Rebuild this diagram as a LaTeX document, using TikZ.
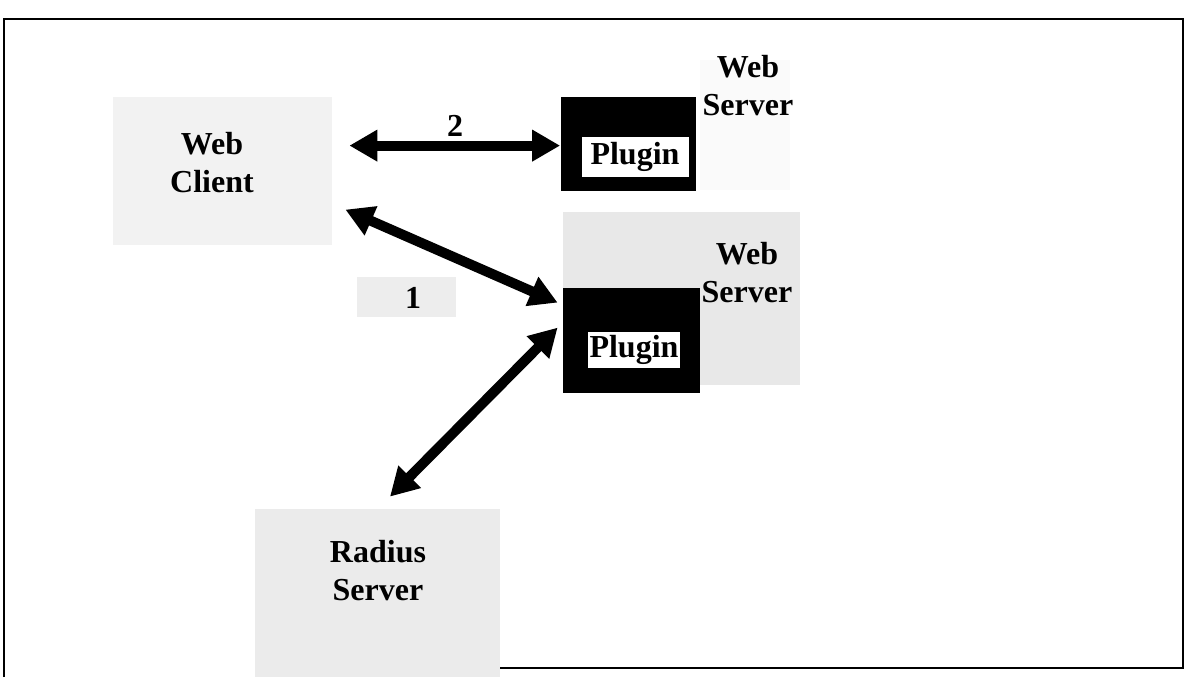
\documentclass[tikz,border=0pt]{standalone}
\usepackage{fontspec}
\setmainfont{Liberation Serif}
\usetikzlibrary{arrows.meta,calc}
\tikzset{
  lbl/.style={font=\fontsize{16}{19}\selectfont\bfseries, align=center, inner sep=0pt},
  speck/.style={fill=black!6, draw=none, inner sep=0pt},
  srv/.style={fill=black, draw=none, inner sep=0pt},
  plug/.style={fill=white, draw=none, inner sep=0pt, font=\fontsize{16}{19}\selectfont\bfseries},
  link/.style={line width=5pt, {Triangle[length=14pt,width=15pt]}-{Triangle[length=14pt,width=15pt]}},
}
\begin{document}
\begin{tikzpicture}[x=0.5pt,y=-0.5pt]
\useasboundingbox (0,0) rectangle (1188,677);
\draw[line width=1.2pt] (4,677) -- (4,19) -- (1183,19) -- (1183,668) -- (490,668);
% backgrounds
\node[speck, fill=black!5, minimum width=109.5pt, minimum height=74pt] (clientbg) at (222.5,171) {};
\node[speck, fill=black!2, minimum width=45pt, minimum height=65pt] (ws1bg) at (745,125) {};
\node[speck, fill=black!9, minimum width=118.5pt, minimum height=86.5pt] (ws2bg) at (681.5,298.5) {};
\node[speck, fill=black!7, minimum width=49.5pt, minimum height=20pt] (onebg) at (406.5,297) {};
\node[speck, fill=black!8, minimum width=122.5pt, minimum height=84pt] (radbg) at (377.5,593) {};
% servers
\node[srv, minimum width=67.5pt, minimum height=47pt] (ws1) at (628,143.5) {};
\node[plug, minimum width=53.5pt, minimum height=20pt] (pl1) at (635,157) {Plugin};
\node[srv, minimum width=68.5pt, minimum height=52.5pt] (ws2) at (631.5,340.5) {};
\node[plug, minimum width=46pt, minimum height=18pt] (pl2) at (634,350) {Plugin};
% labels
\node[lbl] (client) at (212,163) {Web\\Client};
\node[lbl] (ws1lbl) at (748,86) {Web\\Server};
\node[lbl] (ws2lbl) at (747,273) {Web\\Server};
\node[lbl] (radius) at (378,571) {Radius\\Server};
\node[lbl] (two) at (455,126) {2};
\node[lbl] (one) at (413,298) {1};
% connector ends
\coordinate (c2) at ($(clientbg.north east)+(17,49)$);
\coordinate (c1) at ($(clientbg.north east)+(13,113)$);
\coordinate (r3) at ($(radbg.north)+(12.5,-12)$);
\draw[link] (c2) -- (ws1.west |- c2);
\draw[link] (c1) -- ($(ws2.north west)+(-5,15)$);
\draw[link] ($(ws2.north west)+(-5,40)$) -- (r3);
\end{tikzpicture}
\end{document}
